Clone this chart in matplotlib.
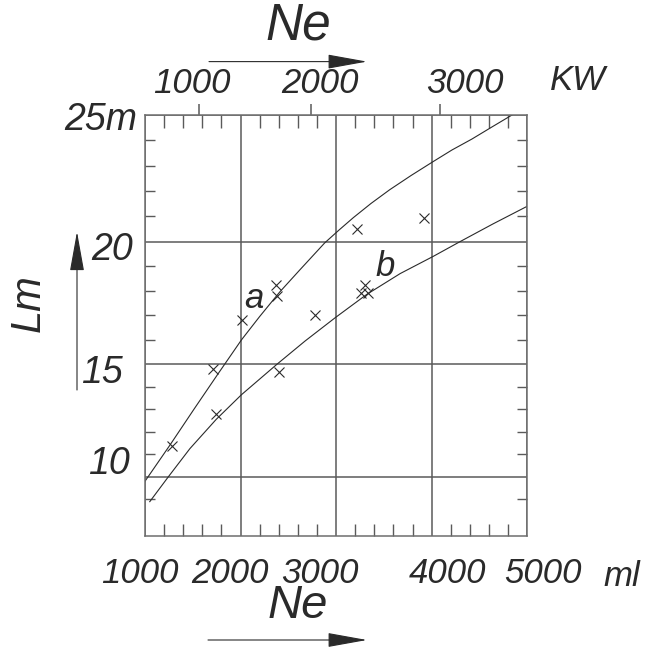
import numpy as np
import matplotlib
matplotlib.use('Agg')
import matplotlib.pyplot as plt
from matplotlib.transforms import ScaledTranslation
from matplotlib.patches import FancyArrowPatch

plt.rcParams['font.family'] = ['Liberation Sans', 'DejaVu Sans']
plt.rcParams['font.style'] = 'italic'

# curve a (upper) and curve b (lower): Lm [m] against Ne [ml]
A_X = [1000, 1260, 1520, 1760, 2010, 2200, 2410, 2620, 2880, 3030, 3180, 3365,
       3560, 3783, 4010, 4212, 4420, 4631, 4840]
A_Y = [9.8, 11.4, 13.05, 14.55, 16.0, 16.95, 17.95, 18.85, 19.95, 20.46, 20.95, 21.51,
       22.05, 22.61, 23.15, 23.62, 24.05, 24.53, 25.0]
B_X = [1050, 1245, 1470, 1745, 2010, 2380, 2675, 2990, 3320, 3670, 4015, 4295, 4640, 5000]
B_Y = [8.9, 10.0, 11.25, 12.55, 13.65, 15.0, 15.95, 16.9, 17.85, 18.7, 19.4, 20.0, 20.7, 21.4]

# measured ships
PTS_X = [1280, 1715, 1745, 2010, 2370, 2385, 2405, 2780, 3215, 3920, 3300, 3255, 3335]
PTS_Y = [11.35, 14.8, 12.8, 16.8, 18.25, 17.8, 14.65, 17.0, 20.5, 20.95, 18.25, 17.9, 17.9]

X_TICKS = [1000, 2000, 3000, 4000, 5000]
X_LABELS = ['1000', '2000', '3000', '4000', '5000']
Y_TICKS = [10, 15, 20, 25]
Y_LABELS = ['10', '15', '20', '25m']
KW_TICKS = [1000, 2000, 3000]
KW_LABELS = ['1000', '2000', '3000']

# the drawing's own Lm scale is not quite even: value -> height (px) of the gridlines
Y_NODES = [7.4, 10, 15, 20, 25]
Y_HEIGHT = [0, 59, 171.4, 294, 420.7]
# where the kW ticks sit on the ml scale, as drawn
KW_AT_ML = [1560, 2742, 4089]

INK = '#2a2a2a'
GRID = '#5a5a5a'
W, H, DPI = 649, 648, 100


def extend(xs, ys, far=1e4):
    xs, ys = list(xs), list(ys)
    s0 = (ys[1] - ys[0]) / (xs[1] - xs[0])
    s1 = (ys[-1] - ys[-2]) / (xs[-1] - xs[-2])
    return ([xs[0] - far] + xs + [xs[-1] + far],
            [ys[0] - far * s0] + ys + [ys[-1] + far * s1])


yn, yh = extend(Y_NODES, Y_HEIGHT)
kn, km = extend(KW_TICKS, KW_AT_ML)


def y_fwd(v):
    return np.interp(v, yn, yh)


def y_inv(h):
    return np.interp(h, yh, yn)


def ml_to_kw(v):
    return np.interp(v, km, kn)


def kw_to_ml(v):
    return np.interp(v, kn, km)


def fx(px):
    return px / W


def fy(py):
    return 1 - py / H


def nudge(labels, dxs, dys):
    for lab, dx, dy in zip(labels, dxs, dys):
        lab.set_transform(lab.get_transform() +
                          ScaledTranslation(dx / DPI, -dy / DPI, fig.dpi_scale_trans))


fig = plt.figure(figsize=(W / DPI, H / DPI), dpi=DPI)
ax = fig.add_axes([fx(145), fy(535.7), fx(527.3) - fx(145), fy(115) - fy(535.7)])

ax.set_yscale('function', functions=(y_fwd, y_inv))
ax.set_xlim(1000, 5000)
ax.set_ylim(7.4, 25)

ax.plot(A_X, A_Y, color=INK, lw=0.8)
ax.plot(B_X, B_Y, color=INK, lw=0.8)
ax.plot(PTS_X, PTS_Y, 'x', ms=7, mew=0.8, color=INK)

ax.text(2140, 17.7, 'a', fontsize=25, color=INK, ha='center', va='center')
ax.text(3511, 18.98, 'b', fontsize=25, color=INK, ha='center', va='center')

# ticks and grid
ax.set_xticks(X_TICKS, labels=X_LABELS)
ax.set_xticks([v for v in range(1200, 5000, 200) if v % 1000], minor=True)
ax.set_yticks(Y_TICKS, labels=Y_LABELS)
ax.set_yticks([v for v in range(9, 25) if v % 5], minor=True)
ax.grid(which='major', color=GRID, lw=1.1)
for s in ax.spines.values():
    s.set_color('#6e6e6e')
    s.set_linewidth(1.1)

ax.tick_params(which='major', length=0, colors=INK)
ax.tick_params(axis='x', which='major', pad=15, labelsize=25)
ax.tick_params(axis='y', which='major', pad=9, labelsize=27)
ax.tick_params(which='minor', direction='in', color=GRID, width=1.0,
               top=True, right=True)
ax.tick_params(axis='x', which='minor', length=9)
ax.tick_params(axis='y', which='minor', length=7.5)

nudge(ax.get_xticklabels(), [-5, -10.6, -16.2, 15.8, 15.7], [0] * 5)
nudge(ax.get_yticklabels(), [-3, -10, 0, 5], [-16.7, 5, 4.5, 1.5])

# kW scale on top
secax = ax.secondary_xaxis('top', functions=(ml_to_kw, kw_to_ml))
secax.set_xticks(KW_TICKS, labels=KW_LABELS)
secax.tick_params(direction='out', length=8, width=1.1, color=GRID,
                  pad=3, labelsize=25, labelcolor=INK)
for s in secax.spines.values():
    s.set_visible(False)
nudge(secax.get_xticklabels(), [-6.6, 8.3, 24.7], [0] * 3)

fig.text(fx(578), fy(80), 'KW', fontsize=25, color=INK, ha='center', va='center')
fig.text(fx(622), fy(576), 'ml', fontsize=25, color=INK, ha='center', va='center')

# axis names with arrows
fig.text(fx(298), fy(26), 'Ne', fontsize=37, color=INK, ha='center', va='center')
fig.text(fx(298), fy(606), 'Ne', fontsize=34, color=INK, ha='center', va='center')
fig.text(fx(29), fy(303), 'Lm', fontsize=30, color=INK, ha='center', va='center',
         rotation=90)

for (x0, y0), (x1, y1) in [((209, 61.6), (367, 61.6)),
                           ((208, 640), (367, 640)),
                           ((77, 390), (77, 231.7))]:
    fig.add_artist(FancyArrowPatch((fx(x0), fy(y0)), (fx(x1), fy(y1)),
                                   transform=fig.transFigure,
                                   arrowstyle='-|>,head_length=25,head_width=4.5',
                                   mutation_scale=1, shrinkA=0, shrinkB=0,
                                   color=INK, lw=0.8))

fig.savefig('out.png', dpi=DPI)
